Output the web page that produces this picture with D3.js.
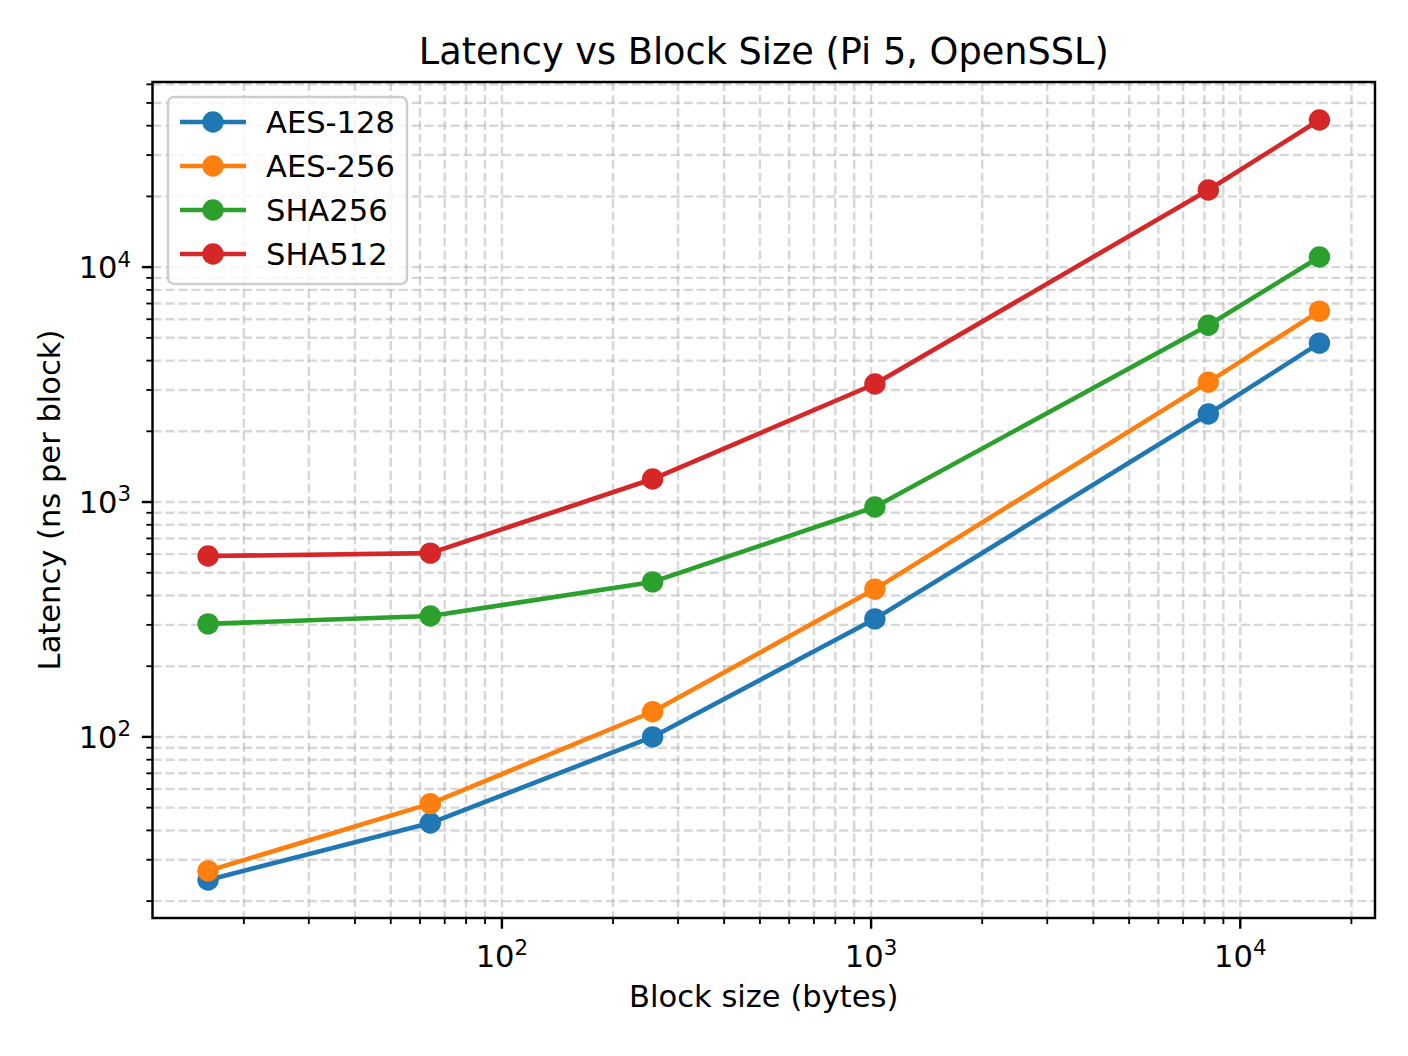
<!DOCTYPE html>
<html>
<head>
<meta charset="utf-8">
<script src="https://cdn.jsdelivr.net/npm/d3@7"></script>
<style>
  html, body { margin: 0; padding: 0; background: #fff; }
  svg { display: block; font-family: "DejaVu Sans", sans-serif; }
</style>
</head>
<body>
<svg id="chart" width="1408" height="1056"></svg>
<script>
// Block sizes (bytes) and latency (ns per block)
const blockSizes = [16, 64, 256, 1024, 8192, 16384];
const aes128 = [24.6, 43, 100, 318, 2370, 4750];
const aes256 = [26.9, 52, 128, 426, 3240, 6500];
const sha256 = [303, 327, 457, 952, 5660, 11040];
const sha512 = [589, 606, 1253, 3180, 21300, 42300];

const seriesNames = ['AES-128', 'AES-256', 'SHA256', 'SHA512'];
const seriesColors = ['#1f77b4', '#ff7f0e', '#2ca02c', '#d62728'];
const xMajorTicks = [100, 1000, 10000];
const yMajorTicks = [100, 1000, 10000];

const title = 'Latency vs Block Size (Pi 5, OpenSSL)';
const xLabel = 'Block size (bytes)';
const yLabel = 'Latency (ns per block)';

const series = [aes128, aes256, sha256, sha512].map((vals, i) => ({
  name: seriesNames[i],
  color: seriesColors[i],
  points: vals.map((v, j) => ({ x: blockSizes[j], y: v }))
}));

const pt = 220 / 72; // figure rendered at 220 dpi
const margin = { top: 82, right: 33, bottom: 138, left: 152.5 };
const width = 1408, height = 1056;
const innerW = width - margin.left - margin.right;
const innerH = height - margin.top - margin.bottom;
const markerR = 3.5 * pt; // 6pt marker plus edge

// matplotlib-like 5% margins in log space
function logDomain(vals) {
  const [a, b] = d3.extent(vals).map(Math.log10);
  const pad = (b - a) * 0.05;
  return [Math.pow(10, a - pad), Math.pow(10, b + pad)];
}
const allY = [].concat(aes128, aes256, sha256, sha512);
const x = d3.scaleLog().domain(logDomain(blockSizes)).range([0, innerW]);
const y = d3.scaleLog().domain(logDomain(allY)).range([innerH, 0]);

function minorTicks(scale) {
  const [d0, d1] = scale.domain();
  const out = [];
  for (let e = Math.floor(Math.log10(d0)); e <= Math.ceil(Math.log10(d1)); e++) {
    for (let m = 2; m <= 9; m++) {
      const v = m * Math.pow(10, e);
      if (v >= d0 && v <= d1) out.push(v);
    }
  }
  return out;
}
const xMinor = minorTicks(x);
const yMinor = minorTicks(y);

const svg = d3.select('#chart');
const g = svg.append('g').attr('transform', `translate(${margin.left},${margin.top})`);

// grid, major and minor, dashed
const gridStyle = sel => sel
  .attr('stroke', '#b0b0b0').attr('stroke-opacity', 0.5)
  .attr('stroke-width', 0.8 * pt)
  .attr('stroke-dasharray', `${2.96 * pt} ${1.28 * pt}`);

g.append('g').selectAll('line').data(xMinor.concat(xMajorTicks)).join('line')
  .attr('x1', d => x(d)).attr('x2', d => x(d)).attr('y1', 0).attr('y2', innerH)
  .call(gridStyle);
g.append('g').selectAll('line').data(yMinor.concat(yMajorTicks)).join('line')
  .attr('y1', d => y(d)).attr('y2', d => y(d)).attr('x1', 0).attr('x2', innerW)
  .call(gridStyle);

// series lines and markers
const line = d3.line().x(d => x(d.x)).y(d => y(d.y));
series.forEach(s => {
  g.append('path').datum(s.points)
    .attr('d', line).attr('fill', 'none')
    .attr('stroke', s.color).attr('stroke-width', 1.5 * pt)
    .attr('stroke-linejoin', 'round').attr('stroke-linecap', 'butt');
  g.append('g').selectAll('circle').data(s.points).join('circle')
    .attr('cx', d => x(d.x)).attr('cy', d => y(d.y))
    .attr('r', markerR).attr('fill', s.color);
});

// frame
g.append('rect').attr('width', innerW).attr('height', innerH)
  .attr('fill', 'none').attr('stroke', '#000').attr('stroke-width', 0.8 * pt);

// ticks
const majorLen = 3.5 * pt, minorLen = 2 * pt;
g.append('g').selectAll('line').data(xMinor).join('line')
  .attr('x1', d => x(d)).attr('x2', d => x(d)).attr('y1', innerH).attr('y2', innerH + minorLen)
  .attr('stroke', '#000').attr('stroke-width', 0.6 * pt);
g.append('g').selectAll('line').data(xMajorTicks).join('line')
  .attr('x1', d => x(d)).attr('x2', d => x(d)).attr('y1', innerH).attr('y2', innerH + majorLen)
  .attr('stroke', '#000').attr('stroke-width', 0.8 * pt);
g.append('g').selectAll('line').data(yMinor).join('line')
  .attr('y1', d => y(d)).attr('y2', d => y(d)).attr('x1', 0).attr('x2', -minorLen)
  .attr('stroke', '#000').attr('stroke-width', 0.6 * pt);
g.append('g').selectAll('line').data(yMajorTicks).join('line')
  .attr('y1', d => y(d)).attr('y2', d => y(d)).attr('x1', 0).attr('x2', -majorLen)
  .attr('stroke', '#000').attr('stroke-width', 0.8 * pt);

const fs = 10 * pt;
function powLabel(sel, d) {
  const e = Math.round(Math.log10(d));
  sel.append('tspan').text('10');
  sel.append('tspan').attr('font-size', fs * 0.7).attr('dy', -fs * 0.38).text(e);
}
g.append('g').selectAll('text').data(xMajorTicks).join('text')
  .attr('x', d => x(d)).attr('y', innerH + majorLen + 3.5 * pt + fs * 0.9)
  .attr('text-anchor', 'middle').attr('font-size', fs).attr('fill', '#000')
  .each(function (d) { powLabel(d3.select(this), d); });
g.append('g').selectAll('text').data(yMajorTicks).join('text')
  .attr('x', -majorLen - 3.5 * pt).attr('y', d => y(d) + fs * 0.36)
  .attr('text-anchor', 'end').attr('font-size', fs).attr('fill', '#000')
  .each(function (d) { powLabel(d3.select(this), d); });

// axis labels and title
svg.append('text').attr('x', margin.left + innerW / 2).attr('y', 1007)
  .attr('text-anchor', 'middle').attr('font-size', fs).text(xLabel);
svg.append('text').attr('transform', `translate(60,${margin.top + innerH / 2}) rotate(-90)`)
  .attr('text-anchor', 'middle').attr('font-size', fs).text(yLabel);
svg.append('text').attr('x', margin.left + innerW / 2).attr('y', 64)
  .attr('text-anchor', 'middle').attr('font-size', 12 * pt).text(title);

// legend
const leg = svg.append('g').attr('transform', 'translate(168,97)');
leg.append('rect').attr('width', 239).attr('height', 187).attr('rx', 6)
  .attr('fill', '#fff').attr('fill-opacity', 0.8)
  .attr('stroke', '#cccccc').attr('stroke-width', 0.8 * pt);
const rows = leg.selectAll('g.row').data(series).join('g')
  .attr('class', 'row').attr('transform', (d, i) => `translate(0,${25 + i * 44})`);
rows.append('line').attr('x1', 12).attr('x2', 78)
  .attr('stroke', d => d.color).attr('stroke-width', 1.5 * pt);
rows.append('circle').attr('cx', 45).attr('r', markerR).attr('fill', d => d.color);
rows.append('text').attr('x', 98).attr('y', fs * 0.36).attr('font-size', fs)
  .text(d => d.name);
</script>
</body>
</html>
